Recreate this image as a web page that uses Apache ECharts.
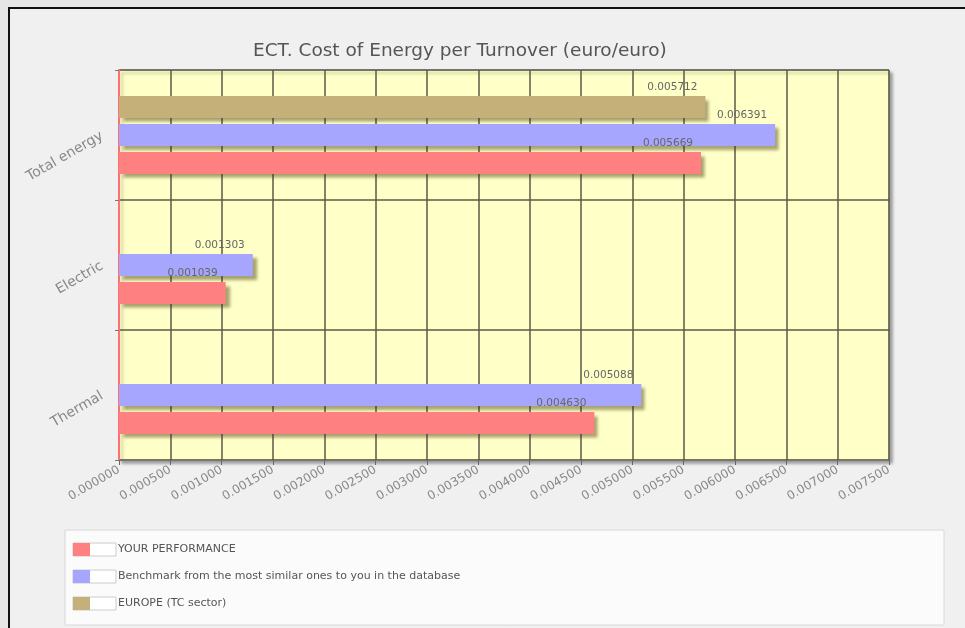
<!DOCTYPE html>
<html><head><meta charset="utf-8">
<script src="https://cdn.jsdelivr.net/npm/echarts@6/dist/echarts.min.js"></script>
<style>html,body{margin:0;padding:0;background:#e6e6e6;}#c{width:965px;height:628px;}</style>
</head><body><div id="c"></div>
<script>
const categories = ['Thermal', 'Electric', 'Total energy'];
const yourPerformance = [0.004630, 0.001039, 0.005669];
const benchmark = [0.005088, 0.001303, 0.006391];
const europe = [null, null, 0.005712];
const seriesNames = ['YOUR PERFORMANCE', 'Benchmark from the most similar ones to you in the database', 'EUROPE (TC sector)'];
const xTicks = { min: 0, max: 0.0075, interval: 0.0005 };

const colors = ['#ff8080', '#a6a6ff', '#c4b078'];
const labelStyle = {
  show: true, position: ['100%', 0], align: 'right', verticalAlign: 'bottom',
  offset: [-8, -3], fontSize: 10.5, color: '#666', fontFamily: 'DejaVu Sans',
  formatter: p => p.value == null ? '' : Number(p.value).toFixed(6)
};
function mk(name, data, i) {
  return {
    name, type: 'bar', data, barWidth: 22, barGap: '27%',
    itemStyle: { color: colors[i], shadowColor: 'rgba(60,50,0,0.45)', shadowOffsetX: 4, shadowOffsetY: 4, shadowBlur: 3 },
    label: labelStyle
  };
}
const chart = echarts.init(document.getElementById('c'));
chart.setOption({
  animation: false,
  backgroundColor: 'transparent',
  graphic: [
    { type: 'rect', z: -10, shape: { x: 9, y: 8, width: 970, height: 640 }, style: { fill: '#f0f0f0', stroke: '#111', lineWidth: 2 } },
    { type: 'rect', z: -5, shape: { x: 65, y: 530, width: 879, height: 95 }, style: { fill: '#fbfbfb', stroke: '#d8d8d8', lineWidth: 1 } },
    { type: 'rect', z: 1, shape: { x: 73, y: 543, width: 43, height: 13 }, style: { fill: '#fff', stroke: '#ccc', lineWidth: 1 } },
    { type: 'rect', z: 1, shape: { x: 73, y: 570, width: 43, height: 13 }, style: { fill: '#fff', stroke: '#ccc', lineWidth: 1 } },
    { type: 'rect', z: 1, shape: { x: 73, y: 597, width: 43, height: 13 }, style: { fill: '#fff', stroke: '#ccc', lineWidth: 1 } }
  ],
  title: {
    text: 'ECT. Cost of Energy per Turnover (euro/euro)',
    left: 248, top: 37,
    textStyle: { fontFamily: 'DejaVu Sans', fontWeight: 'normal', fontSize: 18.5, color: '#555' }
  },
  legend: {
    data: seriesNames,
    orient: 'vertical', left: 73, top: 543, padding: 0, itemWidth: 17, itemHeight: 13, itemGap: 14,
    icon: 'rect', z: 5,
    formatter: name => '{s|}' + name,
    textStyle: { fontFamily: 'DejaVu Sans', fontSize: 11, color: '#555', rich: { s: { width: 23 } } }
  },
  grid: {
    left: 119, top: 70, width: 770, height: 390, show: true,
    backgroundColor: '#ffffc8', borderColor: '#999', borderWidth: 1,
    shadowColor: 'rgba(0,0,0,0.35)', shadowOffsetX: 3, shadowOffsetY: 3, shadowBlur: 3
  },
  xAxis: {
    type: 'value', min: xTicks.min, max: xTicks.max, interval: xTicks.interval,
    axisLine: { show: true, lineStyle: { color: '#777', width: 1 } },
    axisTick: { show: true, length: 5, lineStyle: { color: '#666' } },
    splitLine: { show: true, lineStyle: { color: '#5a5a48', width: 1.5 } },
    axisLabel: { rotate: 30, margin: 9, fontSize: 12, color: '#888', fontFamily: 'DejaVu Sans',
      formatter: v => v.toFixed(6) }
  },
  yAxis: {
    type: 'category', data: categories,
    axisLine: { show: true, lineStyle: { color: '#ff7070', width: 2 } },
    axisTick: { show: true, length: 4, lineStyle: { color: '#777' } },
    splitLine: { show: true, lineStyle: { color: '#5a5a48', width: 1.5 } },
    axisLabel: { rotate: 30, margin: 17, fontSize: 14, color: '#888', fontFamily: 'DejaVu Sans' }
  },
  series: [
    mk(seriesNames[2], europe, 2),
    mk(seriesNames[1], benchmark, 1),
    mk(seriesNames[0], yourPerformance, 0)
  ]
});
</script></body></html>
